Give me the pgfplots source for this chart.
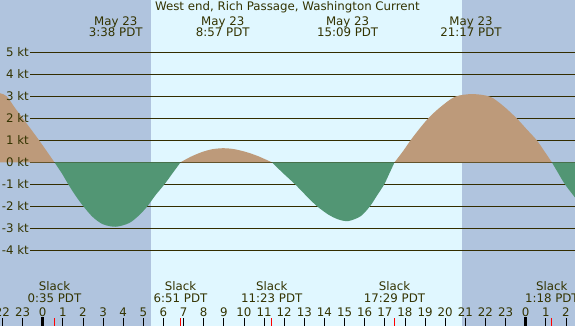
\documentclass[border=0pt]{standalone}
\usepackage{pgfplots}
\pgfplotsset{compat=1.18}
\usepackage{fontspec}
\setmainfont{DejaVu Sans}
\definecolor{night}{RGB}{176,196,222}
\definecolor{day}{RGB}{224,247,255}
\definecolor{flood}{RGB}{189,154,122}
\definecolor{ebb}{RGB}{82,150,116}
\definecolor{ink}{RGB}{51,45,0}
\definecolor{txt}{RGB}{51,51,0}
\begin{document}
\begin{tikzpicture}[font=\fontsize{11.8}{13}\selectfont]
\useasboundingbox (0,0) rectangle (575pt,326pt);
\begin{axis}[at={(0,0)}, anchor=south west,
  width=575pt, height=326pt, scale only axis,
  xmin=-2.122, xmax=26.45, ymin=-7.441, ymax=7.377,
  axis background/.style={fill=night},
  axis line style={draw=none},
  axis on top,
  ytick=\empty,
  xtick={-2,...,26},
  xticklabels={22,23,0,1,2,3,4,5,6,7,8,9,10,11,12,13,14,15,16,17,18,19,20,21,22,23,0,1,2},
  xticklabel style={anchor=base, yshift=9pt, text=txt, inner sep=0pt},
  xtick pos=left,
  tick align=inside,
  major tick length=7.5pt,
  minor tick length=7.5pt,
  major tick style={black, line width=0.8pt},
  minor xtick={0.583,6.85,11.383,17.483,25.3},
  minor tick style={red, line width=0.8pt},
  extra x ticks={0,24},
  extra x tick labels={},
  extra x tick style={major tick length=8.5pt, major tick style={black, line width=3.5pt}},
  clip=true,
]
\fill[day] (axis cs:5.38,-7.441) rectangle (axis cs:20.83,7.377);

\pgfplotsinvokeforeach{-4,...,5}{
  \draw[ink, line width=1.4pt] (axis cs:-0.63,#1) -- (axis cs:26.6,#1);
}

% flood before slack 0:35
\addplot[draw=none, fill=flood, smooth] table {
x y
-2.6 3.22
-2.12 3.14
-1.79 3.0
-1.4 2.5
-0.99 2.0
-0.18 1.0
0.583 0
} \closedcycle;
% ebb 0:35 - 6:51
\addplot[draw=none, fill=ebb, smooth] table {
x y
0.583 0
0.95 -0.5
1.27 -1.0
1.62 -1.5
2.02 -2.0
2.5 -2.5
3.0 -2.82
3.63 -2.93
4.3 -2.76
4.8 -2.4
5.2 -2.0
5.6 -1.5
6.05 -1.0
6.45 -0.5
6.85 0
} \closedcycle;
% flood 6:51 - 11:23
\addplot[draw=none, fill=flood, smooth] table {
x y
6.85 0
7.35 0.25
7.9 0.46
8.4 0.59
8.95 0.64
9.5 0.6
10.1 0.47
10.7 0.28
11.383 0
} \closedcycle;
% ebb 11:23 - 17:29
\addplot[draw=none, fill=ebb, smooth] table {
x y
11.383 0
11.95 -0.5
12.54 -1.0
13.05 -1.48
13.61 -1.98
14.2 -2.38
14.7 -2.6
15.19 -2.67
15.8 -2.45
16.26 -2.0
16.62 -1.5
16.97 -1.0
17.23 -0.5
17.483 0
} \closedcycle;
% flood 17:29 - 1:18
\addplot[draw=none, fill=flood, smooth] table {
x y
17.483 0
17.9 0.5
18.28 1.0
18.7 1.5
19.16 2.0
19.75 2.5
20.49 2.98
21.35 3.1
22.23 2.98
22.9 2.55
23.55 2.0
24.05 1.5
24.55 1.0
24.93 0.5
25.3 0
} \closedcycle;
% ebb after 1:18
\addplot[draw=none, fill=ebb, smooth] table {
x y
25.3 0
25.62 -0.5
25.95 -1.0
26.45 -1.6
26.8 -2.0
} \closedcycle;

\pgfplotsinvokeforeach{-4,...,5}{
  \node[anchor=east, inner sep=1pt, text=txt] at (axis cs:-0.63,#1) {#1 kt};
}

% title and event labels
\node[anchor=base, text=txt] at (axis cs:12.16,6.877) {West end, Rich Passage, Washington Current};
\node[anchor=base, text=txt] at (axis cs:3.633,6.24) {May 23};
\node[anchor=base, text=txt] at (axis cs:3.633,5.74) {3:38 PDT};
\node[anchor=base, text=txt] at (axis cs:8.95,6.24) {May 23};
\node[anchor=base, text=txt] at (axis cs:8.95,5.74) {8:57 PDT};
\node[anchor=base, text=txt] at (axis cs:15.15,6.24) {May 23};
\node[anchor=base, text=txt] at (axis cs:15.15,5.74) {15:09 PDT};
\node[anchor=base, text=txt] at (axis cs:21.283,6.24) {May 23};
\node[anchor=base, text=txt] at (axis cs:21.283,5.74) {21:17 PDT};

\node[anchor=base, text=txt] at (axis cs:0.583,-5.85) {Slack};
\node[anchor=base, text=txt] at (axis cs:0.583,-6.395) {0:35 PDT};
\node[anchor=base, text=txt] at (axis cs:6.85,-5.85) {Slack};
\node[anchor=base, text=txt] at (axis cs:6.85,-6.395) {6:51 PDT};
\node[anchor=base, text=txt] at (axis cs:11.383,-5.85) {Slack};
\node[anchor=base, text=txt] at (axis cs:11.383,-6.395) {11:23 PDT};
\node[anchor=base, text=txt] at (axis cs:17.483,-5.85) {Slack};
\node[anchor=base, text=txt] at (axis cs:17.483,-6.395) {17:29 PDT};
\node[anchor=base, text=txt] at (axis cs:25.3,-5.85) {Slack};
\node[anchor=base, text=txt] at (axis cs:25.3,-6.395) {1:18 PDT};
\end{axis}
\end{tikzpicture}
\end{document}
